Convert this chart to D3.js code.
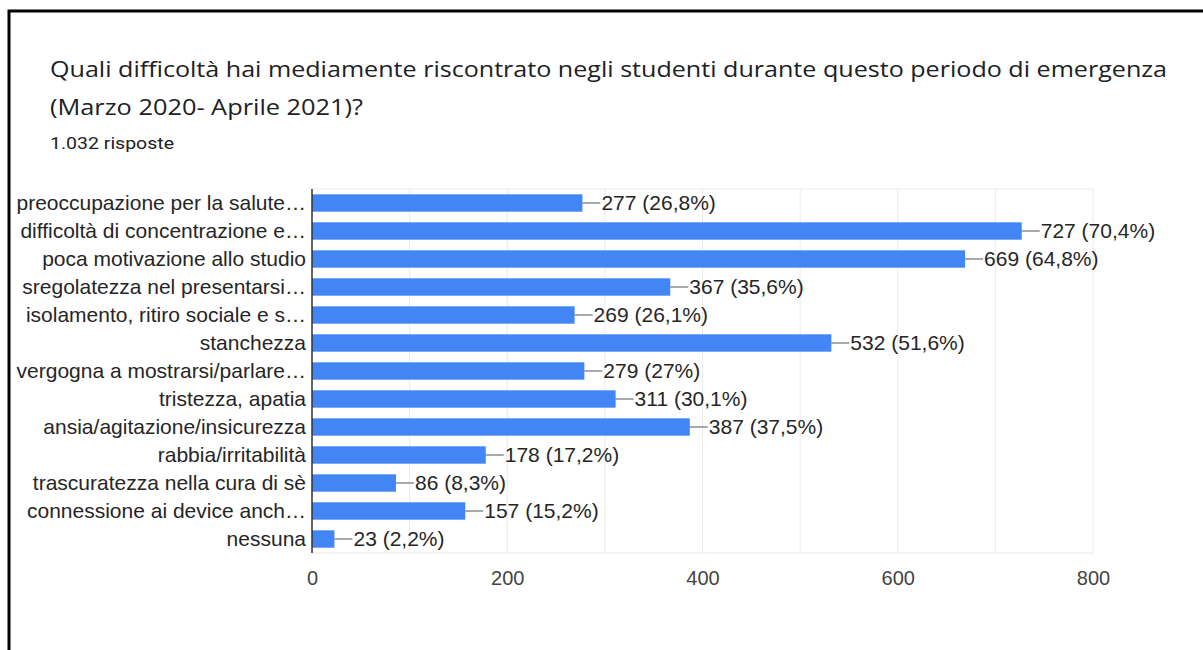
<!DOCTYPE html>
<html>
<head>
<meta charset="utf-8">
<script src="https://cdn.jsdelivr.net/npm/d3@7"></script>
<style>
  html, body { margin: 0; padding: 0; background: #fff; }
  svg { display: block; }
</style>
</head>
<body>
<svg id="chart" width="1203" height="650"></svg>
<script>
// Survey answers (multiple choice), counts per option
const categories = [
  "preoccupazione per la salute…",
  "difficoltà di concentrazione e…",
  "poca motivazione allo studio",
  "sregolatezza nel presentarsi…",
  "isolamento, ritiro sociale e s…",
  "stanchezza",
  "vergogna a mostrarsi/parlare…",
  "tristezza, apatia",
  "ansia/agitazione/insicurezza",
  "rabbia/irritabilità",
  "trascuratezza nella cura di sè",
  "connessione ai device anch…",
  "nessuna"
];
const counts = [277, 727, 669, 367, 269, 532, 279, 311, 387, 178, 86, 157, 23];
const percents = ["26,8%", "70,4%", "64,8%", "35,6%", "26,1%", "51,6%", "27%", "30,1%", "37,5%", "17,2%", "8,3%", "15,2%", "2,2%"];
const xTicks = [0, 200, 400, 600, 800];
const gridTicks = [0, 100, 200, 300, 400, 500, 600, 700, 800];

const titleLines = [
  "Quali difficoltà hai mediamente riscontrato negli studenti durante questo periodo di emergenza",
  "(Marzo 2020- Aprile 2021)?"
];
const subtitle = "1.032 risposte";

const svg = d3.select("#chart");

// frame
svg.append("path")
  .attr("d", "M9,650 V11 H1203")
  .attr("fill", "none")
  .attr("stroke", "#000")
  .attr("stroke-width", 3);

// header (wide face: stretch glyphs to the header's set width)
const titleWidths = [1117, 313];
svg.selectAll("text.title")
  .data(titleLines)
  .join("text")
  .attr("class", "title")
  .attr("x", 50)
  .attr("y", (d, i) => 77 + i * 38)
  .attr("font-family", "'Open Sans', sans-serif")
  .attr("font-size", 22)
  .attr("fill", "#202124")
  .attr("textLength", (d, i) => titleWidths[i])
  .attr("lengthAdjust", "spacingAndGlyphs")
  .text(d => d);

svg.append("text")
  .attr("x", 50).attr("y", 149)
  .attr("font-family", "Roboto, sans-serif")
  .attr("font-size", 16)
  .attr("fill", "#202124")
  .attr("textLength", 124)
  .attr("lengthAdjust", "spacingAndGlyphs")
  .text(subtitle);

// scales
const x = d3.scaleLinear().domain([0, 800]).range([312, 1093]);
const y = d3.scaleBand().domain(categories).range([189, 553])
  .paddingInner(0.38).paddingOuter(0.19);

const labelFont = "'Liberation Sans', Arial, sans-serif";
const textColor = "#262626";

// plot frame + gridlines
const grid = svg.append("g");
grid.selectAll("line.v")
  .data(gridTicks.slice(1))
  .join("line")
  .attr("x1", d => x(d)).attr("x2", d => x(d))
  .attr("y1", 189).attr("y2", 553)
  .attr("stroke", "#ebebeb").attr("stroke-width", 1);
grid.selectAll("line.h")
  .data([189, 553])
  .join("line")
  .attr("x1", x(0)).attr("x2", x(800))
  .attr("y1", d => d).attr("y2", d => d)
  .attr("stroke", "#ebebeb").attr("stroke-width", 1);

// bars
svg.append("g").selectAll("rect")
  .data(categories)
  .join("rect")
  .attr("x", x(0))
  .attr("y", d => y(d))
  .attr("width", (d, i) => x(counts[i]) - x(0))
  .attr("height", y.bandwidth())
  .attr("fill", "#4285f4");

// baseline axis
svg.append("line")
  .attr("x1", x(0)).attr("x2", x(0))
  .attr("y1", 189).attr("y2", 553)
  .attr("stroke", "#333").attr("stroke-width", 1.5);

// category labels
svg.append("g").selectAll("text")
  .data(categories)
  .join("text")
  .attr("x", 306)
  .attr("y", d => y(d) + y.bandwidth() / 2)
  .attr("dy", "0.35em")
  .attr("text-anchor", "end")
  .attr("font-family", labelFont)
  .attr("font-size", 21)
  .attr("fill", textColor)
  .text(d => d);

// value annotations with leader lines
const ann = svg.append("g").selectAll("g")
  .data(categories)
  .join("g");
ann.append("line")
  .attr("x1", (d, i) => x(counts[i]))
  .attr("x2", (d, i) => x(counts[i]) + 18)
  .attr("y1", d => y(d) + y.bandwidth() / 2)
  .attr("y2", d => y(d) + y.bandwidth() / 2)
  .attr("stroke", "#555").attr("stroke-width", 1);
ann.append("text")
  .attr("x", (d, i) => x(counts[i]) + 19)
  .attr("y", d => y(d) + y.bandwidth() / 2)
  .attr("dy", "0.35em")
  .attr("font-family", labelFont)
  .attr("font-size", 21)
  .attr("fill", textColor)
  .text((d, i) => `${counts[i]} (${percents[i]})`);

// x axis tick labels
const xAxis = d3.axisBottom(x).tickValues(xTicks).tickSize(0).tickPadding(0);
const gx = svg.append("g").attr("transform", "translate(0,585)").call(xAxis);
gx.select(".domain").remove();
gx.selectAll("text")
  .attr("dy", 0)
  .attr("font-family", labelFont)
  .attr("font-size", 20)
  .attr("fill", "#444");
</script>
</body>
</html>
